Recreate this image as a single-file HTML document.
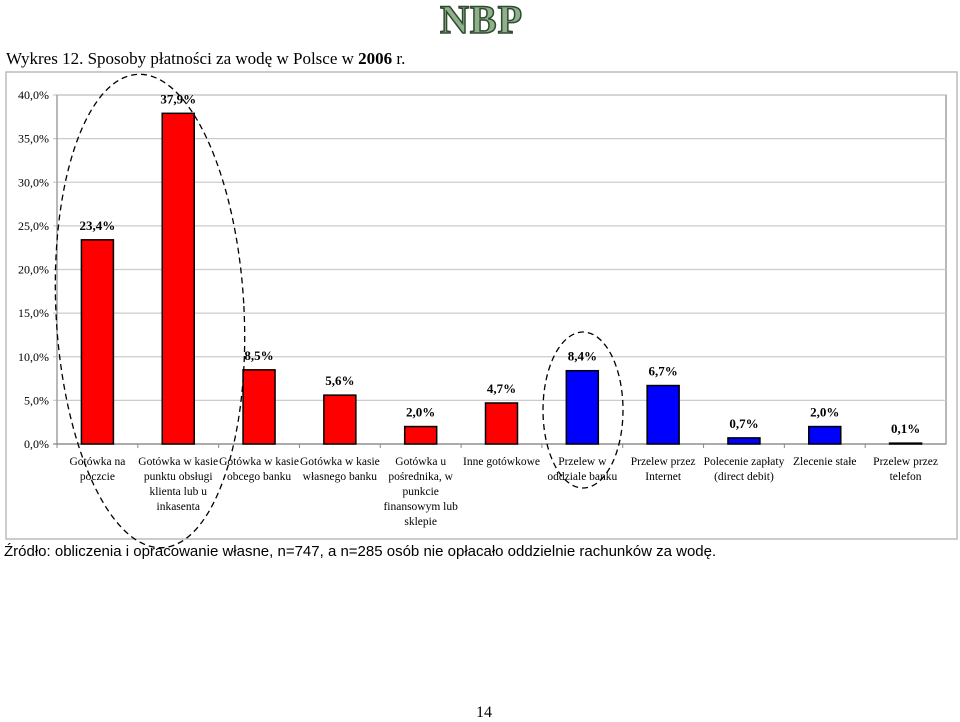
<!DOCTYPE html>
<html><head><meta charset="utf-8"><style>
body{margin:0;width:960px;height:722px;background:#fff;position:relative;overflow:hidden;font-family:"Liberation Serif",serif}
.t{position:absolute;white-space:nowrap}
</style></head><body>
<div class="t" style="left:440px;top:-4px;font-size:40px;font-weight:bold;color:#8fb08a;-webkit-text-stroke:1.5px #2f4a2f;letter-spacing:1px">NBP</div>
<div class="t" style="left:6px;top:49px;font-size:17px">Wykres 12. Sposoby płatności za wodę w Polsce w <b>2006</b> r.</div>
<svg id="chart" width="960" height="722" style="position:absolute;left:0;top:0">
<rect x="6" y="72" width="951" height="467" fill="none" stroke="#bbb" stroke-width="1.5"/>
<g id="grid"></g><g id="bars"></g><g id="labels"></g>
<ellipse cx="150" cy="311" rx="94" ry="237" fill="none" stroke="#000" stroke-width="1.3" stroke-dasharray="6,4" transform="rotate(-3 150 311)"/>
<ellipse cx="583" cy="410" rx="40" ry="78" fill="none" stroke="#000" stroke-width="1.3" stroke-dasharray="6,4"/>
</svg>
<div class="t" style="left:4px;top:543px;font-size:15px;font-family:'Liberation Sans',sans-serif">Źródło: obliczenia i opracowanie własne, n=747, a n=285 osób nie opłacało oddzielnie rachunków za wodę.</div>
<div class="t" style="left:476px;top:704px;font-size:16px">14</div>
<script>
const categories=["Gotówka na poczcie","Gotówka w kasie punktu obsługi klienta lub u inkasenta","Gotówka w kasie obcego banku","Gotówka w kasie własnego banku","Gotówka u pośrednika, w punkcie finansowym lub sklepie","Inne gotówkowe","Przelew w oddziale banku","Przelew przez Internet","Polecenie zapłaty (direct debit)","Zlecenie stałe","Przelew przez telefon"];
const catLines=[["Gotówka na","poczcie"],["Gotówka w kasie","punktu obsługi","klienta lub u","inkasenta"],["Gotówka w kasie","obcego banku"],["Gotówka w kasie","własnego banku"],["Gotówka u","pośrednika, w","punkcie","finansowym lub","sklepie"],["Inne gotówkowe"],["Przelew w","oddziale banku"],["Przelew przez","Internet"],["Polecenie zapłaty","(direct debit)"],["Zlecenie stałe"],["Przelew przez","telefon"]];
const values=[23.4,37.9,8.5,5.6,2.0,4.7,8.4,6.7,0.7,2.0,0.1];
const valueLabels=["23,4%","37,9%","8,5%","5,6%","2,0%","4,7%","8,4%","6,7%","0,7%","2,0%","0,1%"];
const cashFlags=[1,1,1,1,1,1,0,0,0,0,0];
const yTicks=[0,5,10,15,20,25,30,35,40];
const yTickLabels=["0,0%","5,0%","10,0%","15,0%","20,0%","25,0%","30,0%","35,0%","40,0%"];
const X0=57,X1=946,Y0=444,Y1=95,YMAX=40;
const bw=(X1-X0)/categories.length;
const y=v=>Y0-(v/YMAX)*(Y0-Y1);
const xc=i=>X0+bw*(i+0.5);
const NS="http://www.w3.org/2000/svg";
function mk(t,a,p){const e=document.createElementNS(NS,t);for(const k in a)e.setAttribute(k,a[k]);p.appendChild(e);return e;}
const G=document.getElementById('grid'),B=document.getElementById('bars'),L=document.getElementById('labels');
mk('rect',{x:X0,y:Y1,width:X1-X0,height:Y0-Y1,fill:'none',stroke:'#888','stroke-width':1.2},G);
yTicks.forEach((t,i)=>{
 const l=mk('line',{x1:X0-4,x2:X1,y1:y(t),y2:y(t),stroke:t==0?'#888':'#ccc','stroke-width':1.2},G);
 
 
 const tx=mk('text',{x:X0-8,y:y(t)+4,'text-anchor':'end','font-size':12,'font-family':'Liberation Serif, serif'},G);
 tx.textContent=yTickLabels[i];
 
 
});
mk('line',{x1:X0,x2:X0,y1:Y1,y2:Y0,stroke:'#888'},G);
categories.forEach((c,i)=>{
 mk('line',{x1:X0+bw*i,x2:X0+bw*i,y1:Y0,y2:Y0+4,stroke:'#888'},G);
 const r=mk('rect',{x:xc(i)-16,y:y(values[i]),width:32,height:Y0-y(values[i]),fill:cashFlags[i]?'#ff0000':'#0000ff',stroke:'#000','stroke-width':1.5},B);
 
 
 const vt=mk('text',{x:xc(i),y:y(values[i])-10,'text-anchor':'middle','font-size':13,'font-weight':'bold','font-family':'Liberation Serif, serif'},L);
 vt.textContent=valueLabels[i];
 
 
 catLines[i].forEach((ln,j)=>{
  const ct=mk('text',{x:xc(i),y:Y0+21+j*15,'text-anchor':'middle','font-size':11.5,'font-family':'Liberation Serif, serif'},L);
  ct.textContent=ln;
  
  
 });
});
</script>
</body></html>
